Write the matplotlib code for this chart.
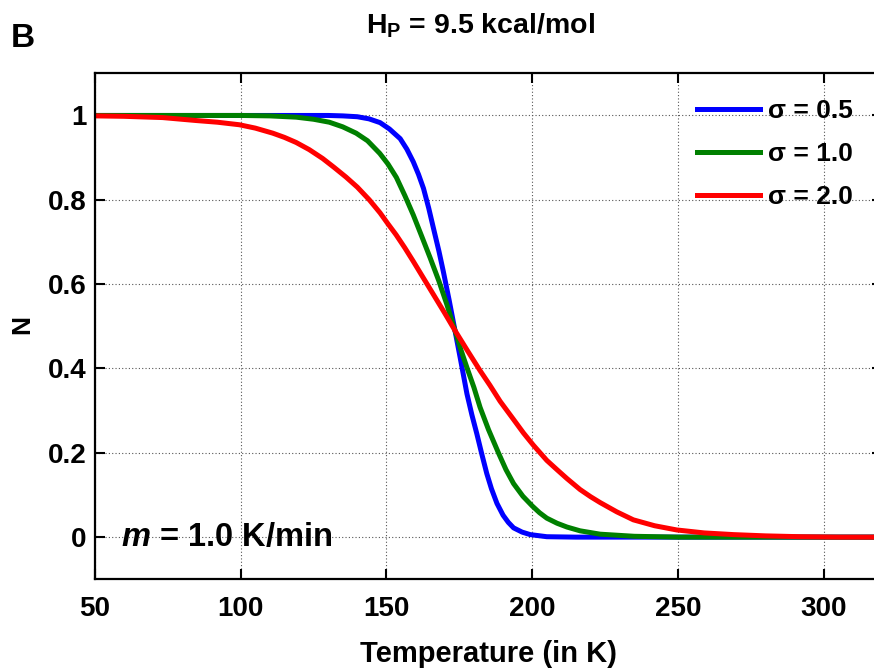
import numpy as np
import matplotlib
matplotlib.use('Agg')
import matplotlib.pyplot as plt

plt.rcParams['font.family'] = ['Liberation Sans', 'DejaVu Sans']
plt.rcParams['font.weight'] = 'bold'
plt.rcParams['mathtext.fontset'] = 'custom'
plt.rcParams['mathtext.rm'] = 'Liberation Sans:bold'
plt.rcParams['mathtext.bf'] = 'Liberation Sans:bold'
plt.rcParams['mathtext.it'] = 'Liberation Sans:bold:italic'

# values
t_05 = [50, 100, 130, 135, 140, 144, 147.8, 151, 154.7, 157, 159.2, 161, 162.7, 164.5,
        166.1, 168, 169.5, 171.5, 173.5, 175.3, 177.6, 179.3, 181, 182.7, 184.4, 186,
        187.9, 190, 191.8, 193.6, 196.5, 199.3, 205, 215, 320]
n_05 = [1.0, 1.0, 1.0, 0.999, 0.997, 0.992, 0.983, 0.968, 0.945, 0.92, 0.89, 0.86, 0.827,
        0.78, 0.733, 0.678, 0.63, 0.562, 0.49, 0.425, 0.34, 0.29, 0.245, 0.197, 0.151,
        0.115, 0.08, 0.052, 0.035, 0.022, 0.012, 0.006, 0.001, 0.0, 0.0]

t_10 = [50, 100, 110, 119, 125, 130.4, 135, 139.6, 143.5, 147.7, 150.5, 153.4, 156.3,
        159.2, 162, 165, 168, 170.7, 173.5, 175.5, 177.6, 180, 182.1, 185, 188.4, 191,
        193.6, 196.8, 200, 202.5, 205, 208.5, 211.9, 216.4, 223.3, 235, 250, 320]
n_10 = [1.0, 1.0, 0.999, 0.996, 0.991, 0.984, 0.973, 0.958, 0.94, 0.91, 0.885, 0.853,
        0.81, 0.764, 0.715, 0.662, 0.607, 0.552, 0.49, 0.445, 0.402, 0.355, 0.308, 0.255,
        0.2, 0.16, 0.127, 0.097, 0.074, 0.058, 0.045, 0.033, 0.024, 0.015, 0.007,
        0.002, 0.0, 0.0]

t_20 = [50, 60, 73.2, 84.7, 92, 99.5, 105, 111, 115, 119, 123.5, 128.1, 132, 136.1, 140,
        144.1, 147.8, 150.5, 153.3, 156.3, 159.2, 162.8, 166.4, 170, 173.5, 177.8, 182.1,
        185.5, 189, 193.6, 197, 200.4, 205, 208.5, 211.9, 216.4, 220, 223.3, 229, 234.7,
        242, 249.6, 259, 269, 280, 292, 305, 320]
n_20 = [0.999, 0.998, 0.995, 0.988, 0.984, 0.978, 0.970, 0.958, 0.948, 0.936, 0.919, 0.898,
        0.877, 0.854, 0.830, 0.800, 0.769, 0.743, 0.717, 0.686, 0.654, 0.613, 0.572, 0.531,
        0.49, 0.442, 0.395, 0.36, 0.322, 0.279, 0.247, 0.218, 0.182, 0.16, 0.139, 0.113,
        0.096, 0.082, 0.06, 0.041, 0.027, 0.017, 0.01, 0.006, 0.003, 0.001, 0.0, 0.0]

labels = ['\u03c3 = 0.5', '\u03c3 = 1.0', '\u03c3 = 2.0']
colors = ['#0000ff', '#008000', '#ff0000']

W, H = 874, 671
fig = plt.figure(figsize=(W / 100, H / 100), dpi=100)
ax = fig.add_axes([95 / W, 91.7 / H, 787 / W, 506 / H])

for t, n, lab, c in zip([t_05, t_10, t_20], [n_05, n_10, n_20], labels, colors):
    ax.plot(t, n, color=c, lw=3.6, label=lab, solid_joinstyle='round')

ax.set_xlim(50, 320)
ax.set_ylim(-0.1, 1.1)
ax.set_xticks([50, 100, 150, 200, 250, 300])
ax.set_yticks([0, 0.2, 0.4, 0.6, 0.8, 1.0])
ax.set_yticklabels(['0', '0.2', '0.4', '0.6', '0.8', '1'])
ax.grid(True, color='#555555', linestyle=(0, (1, 2)), linewidth=0.8)
ax.tick_params(direction='in', length=7, width=1.5, top=True, right=True, labelsize=20)
ax.tick_params(axis='x', pad=12)
ax.tick_params(axis='y', pad=6)
for s in ax.spines.values():
    s.set_linewidth(1.6)

leg = ax.legend(loc='upper left', bbox_to_anchor=((686 - 95) / 787, 1 - 15 / 506),
                frameon=False, fontsize=19, handlelength=2.4, handletextpad=0.3,
                labelspacing=0.72, borderaxespad=0)

ax.text(59, 0, r'$m$ = 1.0 K/min', fontsize=23.5, va='center', ha='left')

fig.text(480 / W, 1 - 26 / H, r'H$_{\rm P}$ = 9.5 kcal/mol', fontsize=20.5, ha='center', va='center')
fig.text(11 / W, 1 - 47 / H, 'B', fontsize=24, ha='left', va='baseline')
fig.text(489 / W, 1 - 654 / H, 'Temperature (in K)', fontsize=21, ha='center', va='center')
fig.text(22 / W, 1 - 325 / H, 'N', fontsize=19, rotation=90, ha='center', va='center')

fig.savefig('out.png', dpi=100)
